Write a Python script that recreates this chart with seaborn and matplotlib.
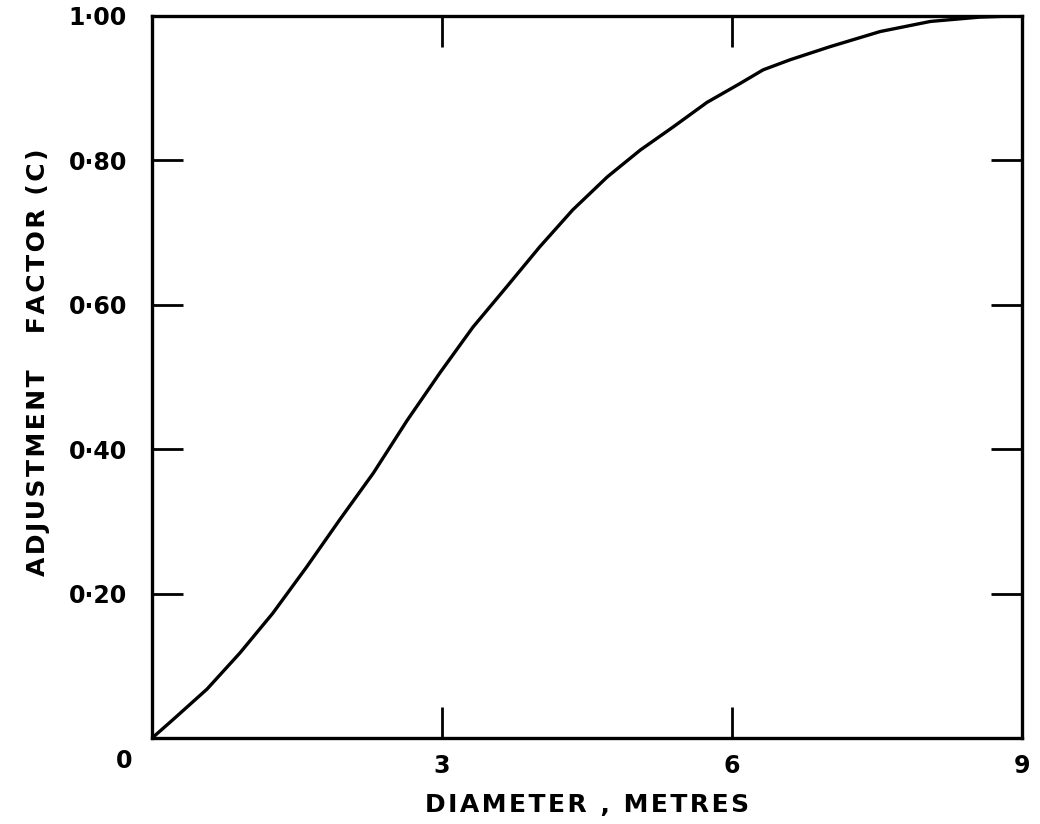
import pandas as pd
import matplotlib.pyplot as plt
import seaborn as sns

# Values
diameter_m = [0.0, 0.22, 0.57, 0.91, 1.25, 1.60, 1.94, 2.29, 2.64, 2.98, 3.32,
              3.67, 4.01, 4.35, 4.71, 5.05, 5.39, 5.74, 6.08, 6.32, 6.60,
              7.01, 7.53, 8.05, 8.56, 9.0]
adjust_factor = [0.0, 0.026, 0.068, 0.118, 0.173, 0.237, 0.302, 0.367, 0.440, 0.506, 0.569,
                 0.625, 0.680, 0.731, 0.777, 0.814, 0.846, 0.880, 0.906, 0.925, 0.939,
                 0.957, 0.978, 0.992, 0.998, 1.0]

x_ticks = [0, 3, 6, 9]
x_tick_labels = ['', '3', '6', '9']
y_ticks = [0, 0.2, 0.4, 0.6, 0.8, 1.0]
y_tick_labels = ['', '0·20', '0·40', '0·60', '0·80', '1·00']

x_title = 'DIAMETER , METRES'
y_title = 'ADJUSTMENT   FACTOR (C)'


def spaced(s):
    # the lettering on the scan is widely spaced
    return '\u200a'.join(s)


df = pd.DataFrame({'diameter': diameter_m, 'factor': adjust_factor})

sns.set_style('white')
plt.rcParams['font.family'] = ['DejaVu Sans']
plt.rcParams['text.color'] = 'black'
plt.rcParams['axes.labelcolor'] = 'black'
plt.rcParams['xtick.color'] = 'black'
plt.rcParams['ytick.color'] = 'black'

fig = plt.figure(figsize=(10.4, 8.24), dpi=100)
ax = fig.add_axes([0.146, 0.104, 0.837, 0.877])

sns.lineplot(data=df, x='diameter', y='factor', color='black', linewidth=2.4, ax=ax)

ax.set_xlim(0, 9)
ax.set_ylim(0, 1.0)
ax.set_xticks(x_ticks)
ax.set_xticklabels(x_tick_labels, fontsize=17, fontweight='bold')
ax.set_yticks(y_ticks)
ax.set_yticklabels(y_tick_labels, fontsize=17, fontweight='bold')

ax.tick_params(direction='in', length=22, width=2, color='black',
               top=True, right=True, bottom=True, left=True)
ax.tick_params(axis='x', pad=11)
ax.tick_params(axis='y', pad=18)

for side in ['top', 'bottom', 'left', 'right']:
    ax.spines[side].set_visible(True)
    ax.spines[side].set_color('black')
    ax.spines[side].set_linewidth(2.4)

# shared origin label
ax.annotate('0', xy=(0, 0), xytext=(-20, -16), textcoords='offset points',
            ha='center', va='center', fontsize=17, fontweight='bold')

ax.set_xlabel(spaced(x_title), fontsize=18, fontweight='bold')
ax.set_ylabel(spaced(y_title), fontsize=18, fontweight='bold')
ax.xaxis.set_label_coords(0.5, -0.075)
ax.yaxis.set_label_coords(-0.117, 0.52)

plt.savefig('out.png', dpi=100)
